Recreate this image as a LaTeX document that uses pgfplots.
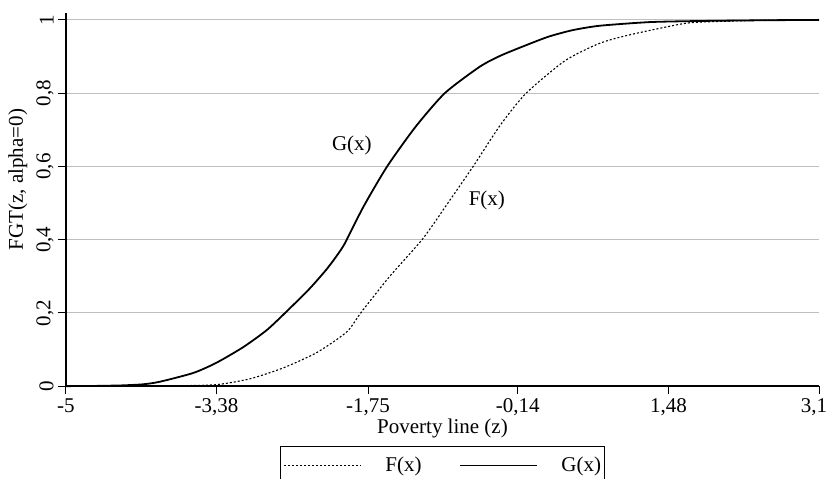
\documentclass[border=0pt]{standalone}
\usepackage{fontspec}
\setmainfont{Liberation Serif}
\usepackage{pgfplots}
\pgfplotsset{compat=1.18}

\newcommand{\chartfont}{\fontsize{10.5}{12.6}\selectfont}

\begin{document}
\begin{tikzpicture}[font=\chartfont]
\begin{axis}[
    scale only axis,
    width=376.5pt,
    height=186.4pt,
    xmin=-5, xmax=3.1,
    ymin=0, ymax=1.018,
    axis x line=bottom,
    axis y line=left,
    axis line style={-, line width=0.9pt},
    tick align=outside,
    major tick length=4pt,
    tick style={line width=0.5pt, black},
    xtick={-5,-3.38,-1.75,-0.14,1.48,3.1},
    xticklabels={{-5},{-3,38},{-1,75},{-0,14},{1,48},{\kern-5pt 3,1}},
    ytick={0,0.2,0.4,0.6,0.8,1},
    yticklabels={{0},{0,2},{0,4},{0,6},{0,8},{1}},
    ymajorgrids,
    major grid style={black!25, line width=0.6pt},
    tick label style={font=\chartfont},
    yticklabel style={rotate=90, anchor=south, inner sep=2pt},
    xticklabel style={inner sep=2pt},
    xlabel={Poverty line (z)},
    ylabel={FGT(z, alpha=0)},
    label style={font=\chartfont},
    xlabel style={at={(rel axis cs:0.5,-0.113)}, anchor=center},
    ylabel style={at={(rel axis cs:-0.064,0.554)}, anchor=center},
    legend columns=2,
    legend image code/.code={
        \path (0pt,0pt) -- (38.5pt,0pt);
        \draw[#1] (6pt,0pt) -- (38.5pt,0pt);
    },
    legend style={
        at={(rel axis cs:0.284,-0.161)}, anchor=north west,
        draw=black, line width=0.5pt,
        inner xsep=1.5pt, inner ysep=5pt,
        font=\chartfont,
        nodes={inner sep=0pt},
        /tikz/every odd column/.append style={column sep=12pt},
        /tikz/every even column/.append style={column sep=18.5pt},
    },
    clip=false,
]

% F(x) - dotted
\addplot[black, line width=0.55pt, dash pattern=on 1pt off 1pt, smooth, tension=0.4] coordinates {
    (-5,0) (-4.2,0) (-3.8,0.001) (-3.38,0.004) (-3.02,0.02) (-2.66,0.05)
    (-2.30,0.092) (-1.98,0.148) (-1.82,0.203) (-1.52,0.299) (-1.16,0.403)
    (-0.87,0.508) (-0.62,0.60) (-0.33,0.712) (-0.05,0.80) (0.37,0.889)
    (0.74,0.936) (1.06,0.959) (1.60,0.988) (1.82,0.994) (2.5,0.999) (3.1,1.0)
};
\addlegendentry{F(x)}

% G(x) - solid
\addplot[black, line width=0.9pt, smooth, tension=0.4] coordinates {
    (-5,0) (-4.7,0.0005) (-4.4,0.002) (-4.17,0.005) (-3.99,0.012) (-3.63,0.036)
    (-3.38,0.064) (-3.09,0.107) (-2.84,0.153) (-2.63,0.203) (-2.38,0.266)
    (-2.20,0.318) (-2.09,0.355) (-2.00,0.390) (-1.80,0.49) (-1.545,0.60)
    (-1.24,0.708) (-0.925,0.80) (-0.55,0.872) (-0.32,0.903) (0.0,0.936)
    (0.2,0.955) (0.45,0.972) (0.74,0.984) (1.28,0.994) (1.82,0.997) (2.5,0.999) (3.1,1.0)
};
\addlegendentry{G(x)}

\node at (axis cs:-1.925,0.656) {G(x)};
\node at (axis cs:-0.473,0.508) {F(x)};

\coordinate (bbsw) at (rel axis cs:-0.0876,-0.2468);
\coordinate (bbne) at (rel axis cs:1.0106,1.0357);
\end{axis}
\pgfresetboundingbox
\path[use as bounding box] (bbsw) rectangle (bbne);
\end{tikzpicture}
\end{document}
